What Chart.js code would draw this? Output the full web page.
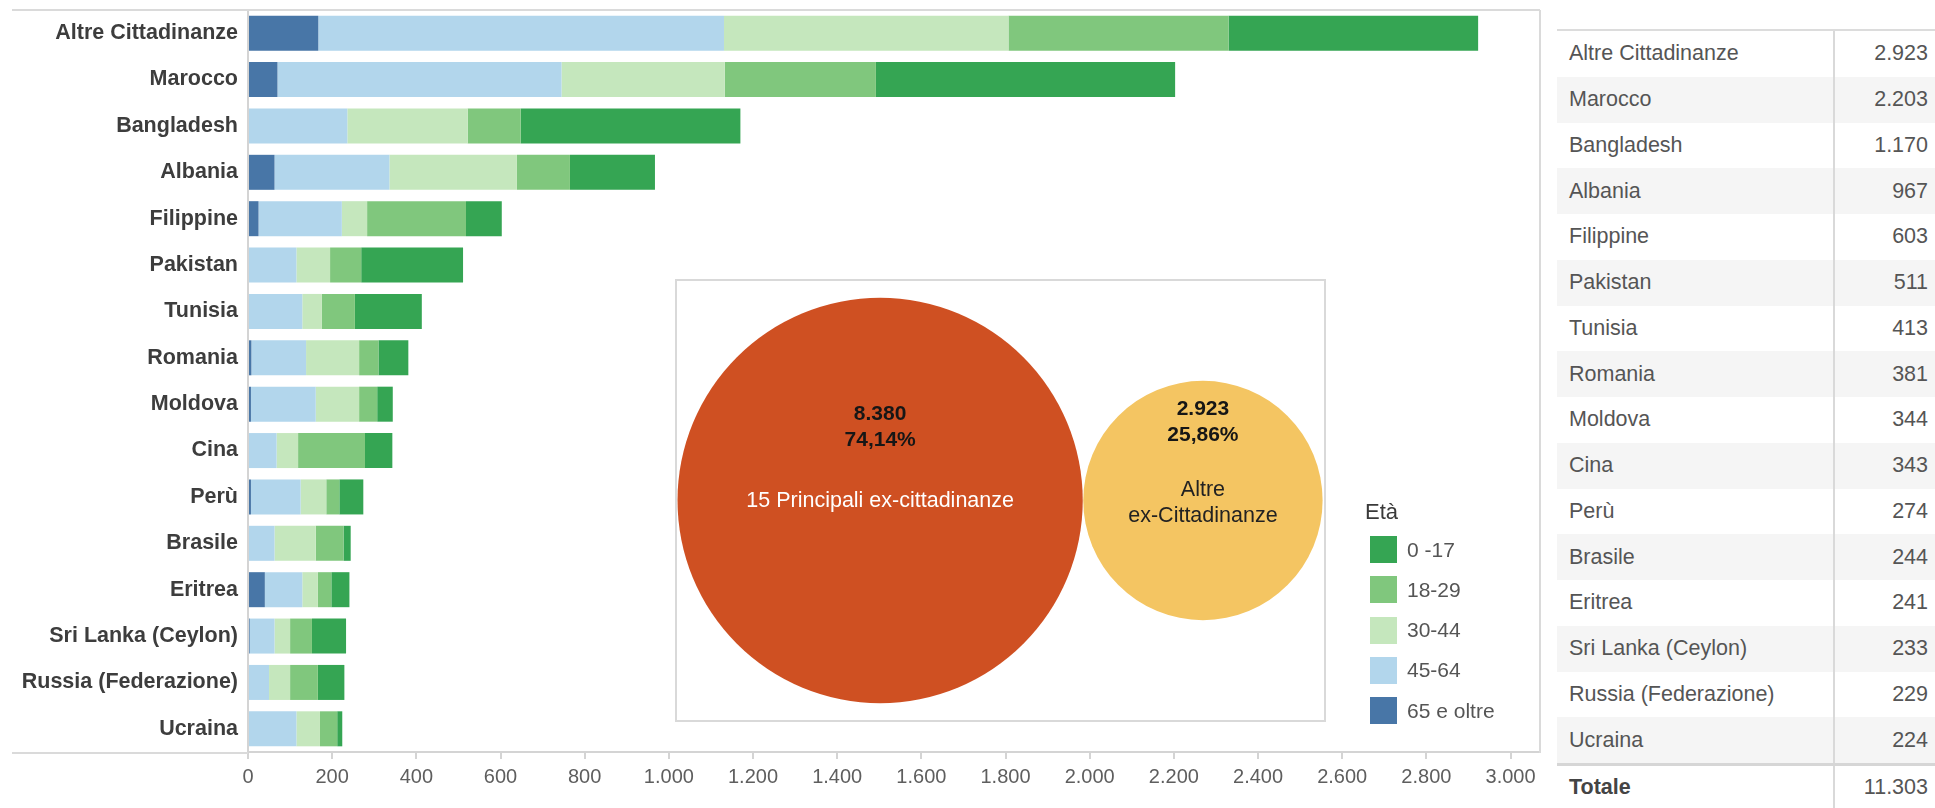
<!DOCTYPE html>
<html lang="it">
<head>
<meta charset="utf-8">
<title>Ex-cittadinanze per classe di età</title>
<script src="https://cdn.jsdelivr.net/npm/chart.js@4.4.1/dist/chart.umd.min.js"></script>
<style>
  html, body { margin: 0; padding: 0; background: #fff; }
  body { width: 1935px; height: 808px; position: relative; overflow: hidden;
         font-family: "Liberation Sans", Arial, sans-serif; }
  #barWrap { position: absolute; left: 0; top: 0; width: 1545px; height: 808px; }
  #bubbleBox { position: absolute; left: 675px; top: 279px; width: 651px; height: 443px;
               box-sizing: border-box; border: 2px solid #d9d9d9; background: #fff; }
  #legend { position: absolute; left: 1365px; top: 499px; color: #555; }
  #legend .title { font-size: 22px; line-height: 26px; color: #3a3a3a; margin-bottom: 11px; }
  #legend .item { display: flex; align-items: center; height: 27px; margin-bottom: 13.3px; margin-left: 5px; }
  #legend .sw { width: 27px; height: 27px; margin-right: 10px; }
  #legend .lbl { font-size: 21px; }
  #table { position: absolute; left: 1557px; top: 29px; width: 378px; border-top: 2px solid #dcdcdc; }
  #table .row { display: flex; height: 45.75px; align-items: center; font-size: 21.5px; color: #555; }
  #table .row:nth-child(even) { background: #f5f5f5; }
  #table .name { width: 264px; padding-left: 12px; height: 100%; display: flex; align-items: center;
                 border-right: 2px solid #d9d9d9; }
  #table .val { flex: 1; text-align: right; padding-right: 7px; }
  #table .row.total { background: #fff; border-top: 3px solid #d6d6d6; height: 42px; }
  #table .row.total .name { font-weight: bold; color: #444; }
</style>
</head>
<body>
<div id="barWrap"><canvas id="bars" width="1545" height="808"></canvas></div>
<div id="bubbleBox"><canvas id="bubbles" width="647" height="439"></canvas></div>
<div id="legend"></div>
<div id="table"></div>

<script>
// Ex-cittadinanze, residenti per classe di età
const categories = [
  'Altre Cittadinanze', 'Marocco', 'Bangladesh', 'Albania', 'Filippine', 'Pakistan',
  'Tunisia', 'Romania', 'Moldova', 'Cina', 'Perù', 'Brasile', 'Eritrea',
  'Sri Lanka (Ceylon)', 'Russia (Federazione)', 'Ucraina'
];
const age65plus = [167, 70, 0, 63, 25, 0, 0, 8, 7, 0, 7, 0, 40, 4, 0, 0];
const age45to64 = [964, 675, 236, 273, 198, 115, 129, 130, 154, 68, 118, 63, 89, 59, 50, 115];
const age30to44 = [676, 388, 286, 303, 60, 80, 46, 126, 103, 51, 61, 98, 37, 37, 50, 56];
const age18to29 = [523, 359, 126, 126, 235, 74, 79, 46, 43, 159, 31, 66, 32, 52, 66, 41];
const age0to17  = [593, 711, 522, 202, 85, 242, 159, 71, 37, 65, 57, 17, 43, 81, 63, 12];
const totals = [2923, 2203, 1170, 967, 603, 511, 413, 381, 344, 343, 274, 244, 241, 233, 229, 224];
const ageLabels = ['65 e oltre', '45-64', '30-44', '18-29', '0 -17'];
const xTicks = [0, 200, 400, 600, 800, 1000, 1200, 1400, 1600, 1800, 2000, 2200, 2400, 2600, 2800, 3000];
const groupNames = [['15 Principali ex-cittadinanze'], ['Altre', 'ex-Cittadinanze']];

const FONT = '"Liberation Sans", Arial, sans-serif';
const ageColors = ['#4876a7', '#b2d6ec', '#c5e7bd', '#80c77d', '#35a553'];
const groupColors = ['#cf5022', '#f4c562'];

// Italian thousands separator
function fmt(n) { return String(n).replace(/\B(?=(\d{3})+(?!\d))/g, '.'); }
function pct(v) { return (v * 100).toFixed(2).replace('.', ',') + '%'; }

// ---- stacked horizontal bars ----
const series = [age65plus, age45to64, age30to44, age18to29, age0to17];

// frame lines around the plot panel
const framePlugin = {
  id: 'frame',
  afterDraw(chart) {
    const { ctx, chartArea: a } = chart;
    ctx.save();
    ctx.strokeStyle = '#dadada';
    ctx.lineWidth = 2;
    ctx.beginPath();
    ctx.moveTo(12, a.top); ctx.lineTo(a.right, a.top);
    ctx.moveTo(a.right, a.top); ctx.lineTo(a.right, a.bottom + 1);
    ctx.moveTo(12, a.bottom + 1); ctx.lineTo(a.left, a.bottom + 1);
    ctx.stroke();
    ctx.restore();
  }
};

const barChart = new Chart(document.getElementById('bars'), {
  type: 'bar',
  data: {
    labels: categories,
    datasets: series.map((d, i) => ({
      label: ageLabels[i],
      data: d,
      backgroundColor: ageColors[i],
      borderWidth: 0,
      barPercentage: 0.755,
      categoryPercentage: 1
    }))
  },
  options: {
    indexAxis: 'y',
    responsive: false,
    animation: false,
    events: [],
    layout: { padding: { top: 10, right: 5, left: 0, bottom: 0 } },
    plugins: { legend: { display: false }, tooltip: { enabled: false } },
    scales: {
      x: {
        type: 'linear',
        stacked: true,
        min: 0,
        max: 3070,
        afterBuildTicks: s => { s.ticks = xTicks.map(v => ({ value: v })); },
        afterFit: s => { s.height = 56; s.paddingLeft = 0; s.paddingRight = 0; },
        ticks: {
          callback: v => fmt(v),
          color: '#5e5e5e',
          font: { family: FONT, size: 20 },
          padding: 6,
          maxRotation: 0,
          autoSkip: false
        },
        grid: { drawOnChartArea: false, drawTicks: true, tickLength: 7, color: '#d4d4d4', lineWidth: 2 },
        border: { color: '#d4d4d4', width: 2 }
      },
      y: {
        type: 'category',
        stacked: true,
        afterFit: s => { s.width = 248; s.paddingTop = 0; s.paddingBottom = 0; },
        ticks: {
          color: '#3d3d3d',
          font: { family: FONT, size: 21.5, weight: 'bold' },
          padding: 10,
          autoSkip: false
        },
        grid: { display: false, drawTicks: false },
        border: { color: '#d4d4d4', width: 2 }
      }
    }
  },
  plugins: [framePlugin]
});

// ---- legend ----
const legendEl = document.getElementById('legend');
legendEl.innerHTML = '<div class="title">Età</div>' +
  barChart.data.datasets.slice().reverse().map(ds =>
    `<div class="item"><div class="sw" style="background:${ds.backgroundColor}"></div><span class="lbl">${ds.label}</span></div>`
  ).join('');

// ---- table ----
const grandTotal = totals.reduce((s, v) => s + v, 0);
const tableEl = document.getElementById('table');
tableEl.innerHTML = categories.map((c, i) =>
  `<div class="row"><div class="name">${c}</div><div class="val">${fmt(totals[i])}</div></div>`
).join('') +
  `<div class="row total"><div class="name">Totale</div><div class="val">${fmt(grandTotal)}</div></div>`;

// ---- packed bubbles: main 15 vs others ----
const otherValue = totals[0];
const mainValue = grandTotal - otherValue;
const groupValues = [mainValue, otherValue];
const bubbleCanvas = document.getElementById('bubbles');
const BW = bubbleCanvas.width, BH = bubbleCanvas.height;
const k = 2.2135; // radius per sqrt(unit): bubble area proportional to value
const radii = groupValues.map(v => k * Math.sqrt(v));
const bubbleData = [
  { x: radii[0] + 0.5, y: BH / 2, r: radii[0] },
  { x: 2 * radii[0] + 1 + radii[1], y: BH / 2, r: radii[1] }
];

const bubbleText = {
  id: 'bubbleText',
  afterDatasetsDraw(chart) {
    const { ctx } = chart;
    const meta = chart.getDatasetMeta(0);
    ctx.save();
    ctx.textAlign = 'center';
    ctx.textBaseline = 'middle';
    meta.data.forEach((el, i) => {
      const v = groupValues[i];
      const top = i === 0 ? -86 : -91;
      ctx.fillStyle = '#161616';
      ctx.font = `bold 21px ${FONT}`;
      ctx.fillText(fmt(v), el.x, el.y + top);
      ctx.fillText(pct(v / grandTotal), el.x, el.y + top + 26);
      ctx.font = `21.5px ${FONT}`;
      ctx.fillStyle = i === 0 ? '#ffffff' : '#222222';
      const names = groupNames[i];
      const start = i === 0 ? 1 : -10;
      names.forEach((t, j) => ctx.fillText(t, el.x, el.y + start + j * 26));
    });
    ctx.restore();
  }
};

new Chart(bubbleCanvas, {
  type: 'bubble',
  data: {
    datasets: [{
      data: bubbleData,
      backgroundColor: groupColors,
      borderWidth: 0,
      hoverRadius: 0
    }]
  },
  options: {
    responsive: false,
    animation: false,
    events: [],
    layout: { padding: 0, autoPadding: false },
    plugins: { legend: { display: false }, tooltip: { enabled: false } },
    scales: {
      x: { type: 'linear', min: 0, max: BW, display: false },
      y: { type: 'linear', min: 0, max: BH, display: false, reverse: true }
    }
  },
  plugins: [bubbleText]
});
</script>
</body>
</html>
